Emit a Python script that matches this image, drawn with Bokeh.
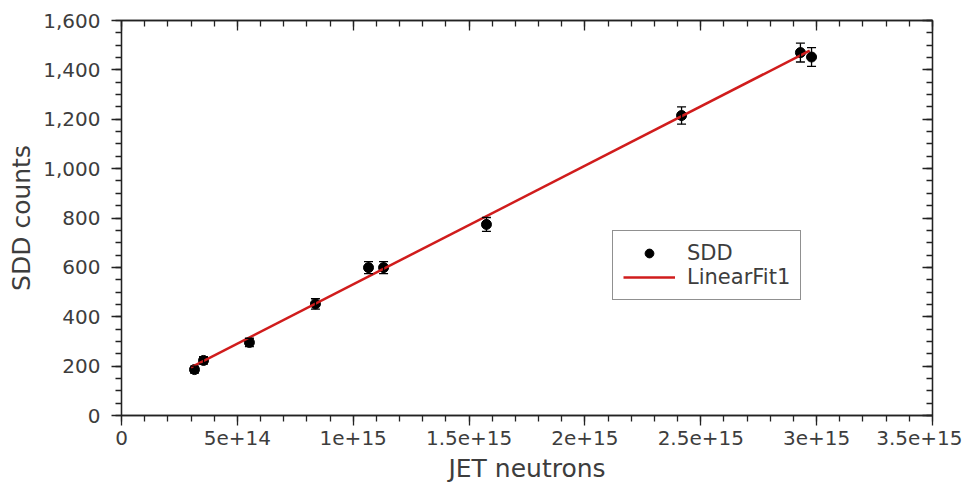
from bokeh.plotting import figure
from bokeh.models import (Range1d, LinearAxis, SingleIntervalTicker, NumeralTickFormatter,
                          CustomJSTickFormatter, Whisker, TeeHead, ColumnDataSource,
                          Legend, LegendItem)
from bokeh.embed import file_html
from bokeh.resources import INLINE

# SDD counts against JET neutron yield, with statistical errors
jet_neutrons = [3.15e14, 3.54e14, 5.52e14, 8.37e14, 1.066e15, 1.131e15,
                1.575e15, 2.417e15, 2.930e15, 2.978e15]
sdd_counts = [186, 223, 296, 452, 599, 599, 774, 1215, 1470, 1452]
sdd_err = [14, 15, 17, 21, 24, 24, 28, 35, 38, 38]

# end points of the linear fit
fit_x = [3.0e14, 2.97e15]
fit_y = [195, 1478]

x_tick_values = [0, 5e14, 1e15, 1.5e15, 2e15, 2.5e15, 3e15, 3.5e15]
x_tick_labels = ["0", "5e+14", "1e+15", "1.5e+15", "2e+15", "2.5e+15", "3e+15", "3.5e+15"]

FONT = "DejaVu Sans"
TEXT = "#3d3d3d"
INK = "#222222"

src = ColumnDataSource(dict(
    x=jet_neutrons,
    y=sdd_counts,
    lower=[c - e for c, e in zip(sdd_counts, sdd_err)],
    upper=[c + e for c, e in zip(sdd_counts, sdd_err)],
))

p = figure(width=962, height=496, output_backend="svg", toolbar_location=None,
           x_range=Range1d(0, 3.5e15), y_range=Range1d(0, 1600),
           x_axis_type=None, y_axis_type=None,
           min_border_left=121, min_border_right=30,
           min_border_top=20, min_border_bottom=81)
p.outline_line_color = INK
p.outline_line_width = 1.3
p.background_fill_color = "white"
p.border_fill_color = "white"

x_fmt = CustomJSTickFormatter(args=dict(vals=x_tick_values, labels=x_tick_labels), code="""
    for (let i = 0; i < vals.length; i++) {
        if (Math.abs(vals[i] - tick) < 1e9) { return labels[i]; }
    }
    return "";
""")
blank_fmt = CustomJSTickFormatter(code="return '';")


def style_axis(ax, inside):
    ax.axis_line_color = INK
    ax.axis_line_width = 1.3
    ax.major_tick_line_color = INK
    ax.minor_tick_line_color = INK
    ax.major_tick_line_width = 1.3
    ax.minor_tick_line_width = 1.3
    if inside:
        ax.major_tick_in, ax.major_tick_out = 10, 0
        ax.minor_tick_in, ax.minor_tick_out = 6, 0
        ax.major_label_standoff = 0
    else:
        ax.major_tick_in, ax.major_tick_out = 0, 10
        ax.minor_tick_in, ax.minor_tick_out = 0, 6
    ax.major_label_text_font = FONT
    ax.major_label_text_font_size = "20px"
    ax.major_label_text_color = TEXT
    ax.axis_label_text_font = FONT
    ax.axis_label_text_font_size = "25px"
    ax.axis_label_text_font_style = "normal"
    ax.axis_label_text_color = TEXT


xb = LinearAxis(ticker=SingleIntervalTicker(interval=5e14, num_minor_ticks=5),
                formatter=x_fmt, axis_label="JET neutrons")
style_axis(xb, False)
xb.major_label_standoff = 5
xb.axis_label_standoff = 6
p.add_layout(xb, "below")

xt = LinearAxis(ticker=SingleIntervalTicker(interval=5e14, num_minor_ticks=5),
                formatter=blank_fmt)
style_axis(xt, True)
p.add_layout(xt, "above")

yl = LinearAxis(ticker=SingleIntervalTicker(interval=200, num_minor_ticks=4),
                formatter=NumeralTickFormatter(format="0,0"), axis_label="SDD counts")
style_axis(yl, False)
yl.major_label_standoff = 11
yl.axis_label_standoff = 4
p.add_layout(yl, "left")

yr = LinearAxis(ticker=SingleIntervalTicker(interval=200, num_minor_ticks=4),
                formatter=blank_fmt)
style_axis(yr, True)
p.add_layout(yr, "right")

# error bars
p.add_layout(Whisker(source=src, base="x", lower="lower", upper="upper", dimension="height",
                     line_color="black", line_width=1.3, level="glyph",
                     lower_head=TeeHead(size=9, line_color="black", line_width=1.3),
                     upper_head=TeeHead(size=9, line_color="black", line_width=1.3)))

pts = p.scatter("x", "y", source=src, size=10, marker="circle",
                fill_color="black", line_color="black")
fit = p.line(fit_x, fit_y, line_color="#d01c1c", line_width=2.5)

legend = Legend(items=[LegendItem(label="SDD", renderers=[pts]),
                       LegendItem(label="LinearFit1", renderers=[fit])],
                location=(491, 115))
legend.border_line_color = INK
legend.border_line_width = 1.2
legend.background_fill_color = "white"
legend.background_fill_alpha = 1.0
legend.label_text_font = FONT
legend.label_text_font_size = "21px"
legend.label_text_color = TEXT
legend.glyph_width = 52
legend.glyph_height = 22
legend.label_height = 22
legend.label_standoff = 12
legend.spacing = 0
legend.padding = 10
legend.margin = 0
p.add_layout(legend)

open("out.html", "w").write(file_html(p, INLINE))
